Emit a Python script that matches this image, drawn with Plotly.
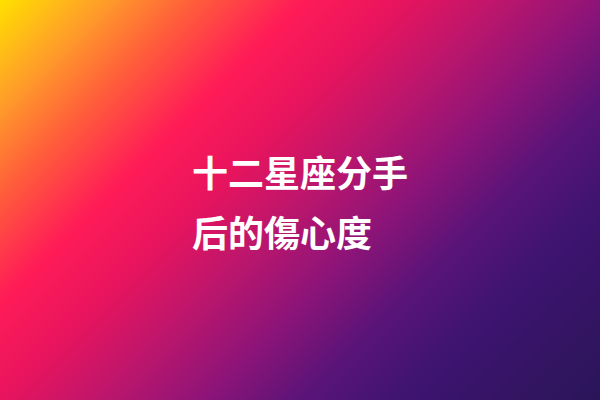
import plotly.graph_objects as go

# Background: a 2x2 grid, smoothed into a diagonal gradient
grid_x = [0, 600]
grid_y = [0, 400]
grid_z = [[0.0, 0.6],
          [0.4, 1.0]]

# Gradient colours
stops = [0.0, 0.1, 0.2, 0.3, 0.4, 0.5, 0.6, 0.7, 0.8, 1.0]
stop_colors = ["#ffe000", "#ffa028", "#ff5a3c", "#ff1c57", "#e8145e",
               "#bc166c", "#8e1478", "#5a1478", "#3e1470", "#2a1558"]

# Title text, two lines
title_lines = ["十二星座分手", "后的傷心度"]
line_x = 190
line_y = [171, 231]

fig = go.Figure(go.Heatmap(
    x=grid_x, y=grid_y, z=grid_z,
    zmin=0, zmax=1, zsmooth="best",
    colorscale=[[s, c] for s, c in zip(stops, stop_colors)],
    showscale=False, hoverinfo="skip",
))

for text, y in zip(title_lines, line_y):
    fig.add_annotation(
        x=line_x, y=y, text=text, showarrow=False,
        xanchor="left", yanchor="middle",
        font=dict(family="Noto Sans CJK SC", size=36, color="white", weight="bold"),
    )

fig.update_layout(
    width=600, height=400,
    margin=dict(l=0, r=0, t=0, b=0),
    xaxis=dict(range=[0, 600], visible=False),
    yaxis=dict(range=[400, 0], visible=False),
    paper_bgcolor="#2a1558",
    plot_bgcolor="#2a1558",
)

# drop the page's default body margin so the figure fills the window
fig.write_html("out.html", config={"displayModeBar": False},
               post_script="document.body.style.margin='0';")
